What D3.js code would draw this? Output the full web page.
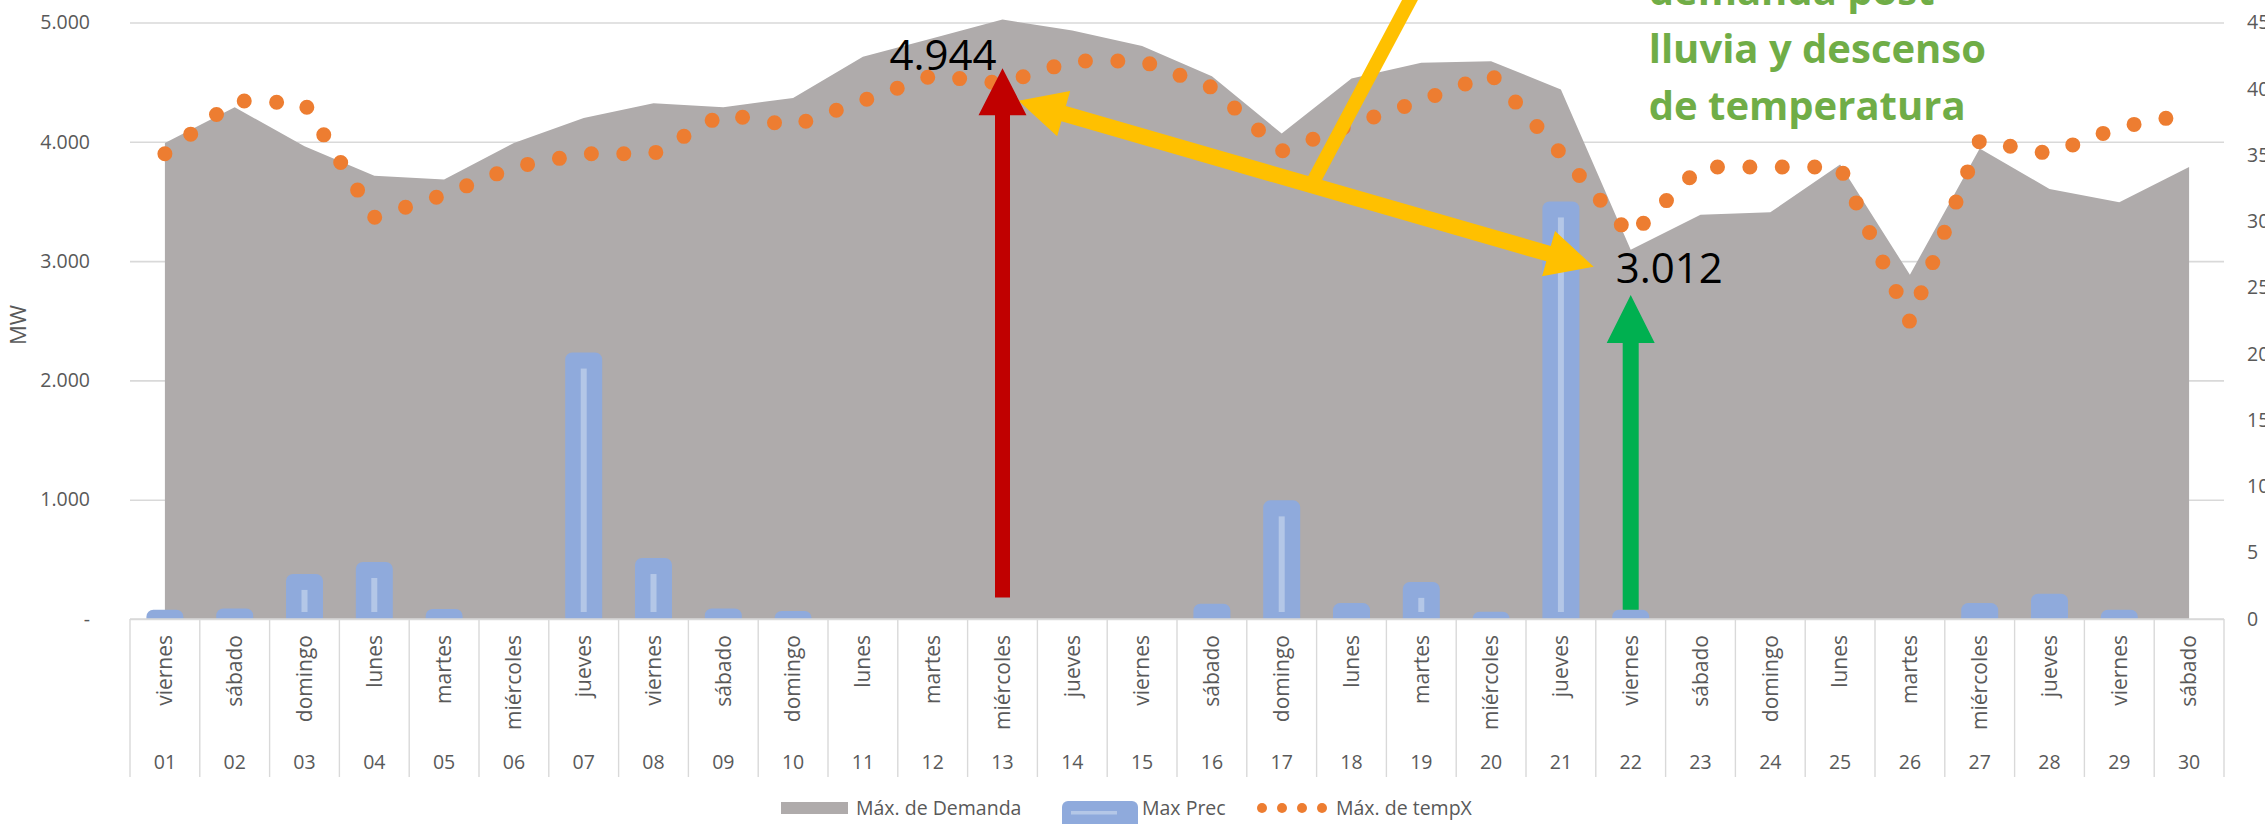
<!DOCTYPE html>
<html>
<head>
<meta charset="utf-8">
<script src="https://cdn.jsdelivr.net/npm/d3@7"></script>
<style>
  body { margin: 0; background: #fff; }
  svg { display: block; }
  text { font-family: "Open Sans", sans-serif; }
</style>
</head>
<body>
<svg width="2265" height="824"></svg>
<script>
var days = ["01","02","03","04","05","06","07","08","09","10","11","12","13","14","15",
            "16","17","18","19","20","21","22","23","24","25","26","27","28","29","30"];
var weekdays = ["viernes","sábado","domingo","lunes","martes","miércoles","jueves",
                "viernes","sábado","domingo","lunes","martes","miércoles","jueves",
                "viernes","sábado","domingo","lunes","martes","miércoles","jueves",
                "viernes","sábado","domingo","lunes","martes","miércoles","jueves",
                "viernes","sábado"];
// Máx. de Demanda (MW)
var demanda = [3990, 4290, 3962, 3716, 3683, 3990, 4200, 4323, 4290, 4368,
               4712, 4868, 5025, 4933, 4802, 4550, 4069, 4530, 4662, 4676,
               4438, 3096, 3389, 3409, 3809, 2886, 3943, 3605, 3493, 3789];
// Max Prec (eje derecho)
var precip = [0.7, 0.8, 3.4, 4.3, 0.75, 0, 20.1, 4.6, 0.8, 0.6,
              0, 0, 0, 0, 0, 1.15, 8.95, 1.2, 2.8, 0.55,
              31.5, 0.7, 0, 0, 0, 0, 1.2, 1.9, 0.7, 0];
// Máx. de tempX (eje derecho)
var tempMax = [35.1, 39.1, 38.9, 30.3, 32.0, 34.1, 35.1, 35.1, 38.1, 37.2,
               39.1, 41.0, 40.4, 42.1, 42.1, 40.1, 35.3, 37.3, 39.1, 41.1,
               35.1, 28.9, 34.1, 34.1, 34.1, 22.4, 36.1, 35.1, 37.1, 38.1];
var leftTicks = [0, 1000, 2000, 3000, 4000, 5000];
var rightTicks = [0, 5, 10, 15, 20, 25, 30, 35, 40, 45];
var legendNames = ["Máx. de Demanda", "Max Prec", "Máx. de tempX"];
var noteValues = [4944, 3012];
var noteText = ["demanda post", "lluvia y descenso", "de temperatura"];

var svg = d3.select("svg"),
    width = +svg.attr("width"),
    height = +svg.attr("height");

var plot = {left: 130, right: 2224, top: 22.5, bottom: 619};
var axisGrey = "#595959", gridGrey = "#d9d9d9";

var x = d3.scaleBand().domain(days).range([plot.left, plot.right]).padding(0);
function cx(d) { return x(d) + x.bandwidth() / 2; }
var yL = d3.scaleLinear().domain([0, 5000]).range([plot.bottom, plot.top]);
var yR = d3.scaleLinear().domain([0, 45]).range([plot.bottom, plot.top]);

var es = d3.formatLocale({decimal: ",", thousands: ".", grouping: [3], currency: ["", "€"]});
var fmt = es.format(",.0f");

var rows = days.map(function(d, i) {
    return {day: d, wd: weekdays[i], dem: demanda[i], prec: precip[i], temp: tempMax[i]};
});

// gridlines
svg.append("g")
    .attr("transform", "translate(" + plot.left + ",0)")
    .call(d3.axisLeft(yL).tickValues(leftTicks).tickSize(-(plot.right - plot.left)).tickFormat(""))
    .call(function(g) {
        g.select(".domain").remove();
        g.selectAll("line").attr("stroke", gridGrey).attr("stroke-width", 1.6);
    });

// area: demanda
var area = d3.area()
    .x(function(d) { return cx(d.day); })
    .y0(plot.bottom)
    .y1(function(d) { return yL(d.dem); });
svg.append("path").datum(rows).attr("d", area).attr("fill", "#afabab");

// bars: precipitacion
function topRounded(x0, y0, w, h, r) {
    r = Math.min(r, h, w / 2);
    return "M" + x0 + "," + (y0 + h) + "V" + (y0 + r) +
        "A" + r + "," + r + " 0 0 1 " + (x0 + r) + "," + y0 +
        "H" + (x0 + w - r) +
        "A" + r + "," + r + " 0 0 1 " + (x0 + w) + "," + (y0 + r) +
        "V" + (y0 + h) + "Z";
}
var barW = x.bandwidth() * 0.53;
var bars = svg.append("g").selectAll("g")
    .data(rows.filter(function(d) { return d.prec > 0; }))
    .enter().append("g");
bars.append("path")
    .attr("d", function(d) {
        var top = yR(d.prec);
        return topRounded(cx(d.day) - barW / 2, top, barW, plot.bottom - top, 7);
    })
    .attr("fill", "#8faadc");
bars.filter(function(d) { return plot.bottom - yR(d.prec) > 26; })
    .append("rect")
    .attr("x", function(d) { return cx(d.day) - 3; })
    .attr("y", function(d) { return yR(d.prec) + 16; })
    .attr("width", 6)
    .attr("height", function(d) { return plot.bottom - 7 - (yR(d.prec) + 16); })
    .attr("fill", "#b4c7e7");

// line: temperatura (punteada)
var line = d3.line()
    .x(function(d) { return cx(d.day); })
    .y(function(d) { return yR(d.temp); });
svg.append("path").datum(rows).attr("d", line)
    .attr("fill", "none")
    .attr("stroke", "#ed7d31")
    .attr("stroke-width", 15)
    .attr("stroke-linecap", "round")
    .attr("stroke-dasharray", "0 32.4");

// bottom axis line
svg.append("line")
    .attr("x1", plot.left).attr("x2", plot.right)
    .attr("y1", plot.bottom).attr("y2", plot.bottom)
    .attr("stroke", gridGrey).attr("stroke-width", 1.6);

// category dividers
svg.append("g").selectAll("line")
    .data(days.concat(["end"]))
    .enter().append("line")
    .attr("x1", function(d, i) { return plot.left + i * x.bandwidth(); })
    .attr("x2", function(d, i) { return plot.left + i * x.bandwidth(); })
    .attr("y1", plot.bottom).attr("y2", 777)
    .attr("stroke", gridGrey).attr("stroke-width", 1.4);

// category labels
svg.append("g").selectAll("text")
    .data(rows)
    .enter().append("text")
    .attr("transform", function(d) { return "translate(" + cx(d.day) + ",635) rotate(-90)"; })
    .attr("text-anchor", "end")
    .attr("dy", "0.35em")
    .attr("font-size", 21)
    .attr("fill", axisGrey)
    .text(function(d) { return d.wd; });

svg.append("g").selectAll("text")
    .data(rows)
    .enter().append("text")
    .attr("x", function(d) { return cx(d.day); })
    .attr("y", 762)
    .attr("dy", "0.35em")
    .attr("text-anchor", "middle")
    .attr("font-size", 19.5)
    .attr("fill", axisGrey)
    .text(function(d) { return d.day; });

// left axis
svg.append("g")
    .attr("transform", "translate(90,0)")
    .call(d3.axisLeft(yL).tickValues(leftTicks).tickSize(0).tickPadding(0)
        .tickFormat(function(v) { return v === 0 ? "-" : fmt(v); }))
    .call(function(g) {
        g.select(".domain").remove();
        g.selectAll("text").attr("font-size", 19.5).attr("fill", axisGrey)
            .attr("font-family", "Open Sans, sans-serif");
    });

// right axis
svg.append("g")
    .attr("transform", "translate(2247,0)")
    .call(d3.axisRight(yR).tickValues(rightTicks).tickSize(0).tickPadding(0))
    .call(function(g) {
        g.select(".domain").remove();
        g.selectAll("text").attr("font-size", 19.5).attr("fill", axisGrey)
            .attr("font-family", "Open Sans, sans-serif");
    });

// y title
svg.append("text")
    .attr("transform", "translate(18,325) rotate(-90)")
    .attr("text-anchor", "middle")
    .attr("dy", "0.35em")
    .attr("font-size", 22)
    .attr("fill", axisGrey)
    .text("MW");

// annotations
function arrowPoints(p0, p1, shaft, headLen, headHalf, both) {
    var dx = p1[0] - p0[0], dy = p1[1] - p0[1], L = Math.hypot(dx, dy);
    var ux = dx / L, uy = dy / L, nx = -uy, ny = ux, s = shaft / 2;
    function pt(t, o) { return [p0[0] + ux * t + nx * o, p0[1] + uy * t + ny * o]; }
    var pts = [];
    if (both) pts.push(pt(0, 0), pt(headLen, headHalf), pt(headLen, s));
    else pts.push(pt(0, s));
    pts.push(pt(L - headLen, s), pt(L - headLen, headHalf), pt(L, 0),
             pt(L - headLen, -headHalf), pt(L - headLen, -s));
    if (both) pts.push(pt(headLen, -s), pt(headLen, -headHalf));
    else pts.push(pt(0, -s));
    return pts;
}
var notes = svg.append("g");

// connector from the callout
notes.append("line")
    .attr("x1", cx("13") + 309).attr("y1", yL(3640))
    .attr("x2", cx("13") + 419).attr("y2", yL(5370))
    .attr("stroke", "#ffc000").attr("stroke-width", 14);

notes.append("polygon")
    .attr("points", arrowPoints([cx("13") + 16, yL(4345)], [cx("22") - 37, yL(2953)], 16, 47, 23.5, true).join(" "))
    .attr("fill", "#ffc000");

notes.append("polygon")
    .attr("points", arrowPoints([cx("13"), yL(180)], [cx("13"), yL(4617)], 15, 47, 24, false).join(" "))
    .attr("fill", "#c00000");

notes.append("polygon")
    .attr("points", arrowPoints([cx("22"), yR(0.7)], [cx("22"), yL(2716)], 16, 48, 24, false).join(" "))
    .attr("fill", "#00b050");

notes.append("text")
    .attr("x", cx("13") - 113).attr("y", 70)
    .attr("font-size", 42).attr("fill", "#000")
    .text(fmt(noteValues[0]));
notes.append("text")
    .attr("x", cx("22") - 15).attr("y", 283)
    .attr("font-size", 42).attr("fill", "#000")
    .text(fmt(noteValues[1]));

notes.append("g").selectAll("text")
    .data(noteText)
    .enter().append("text")
    .attr("x", cx("22") + 18)
    .attr("y", function(d, i) { return 5.2 + i * 57.5; })
    .attr("font-size", 40)
    .attr("font-weight", "bold")
    .attr("fill", "#70ad47")
    .text(function(d) { return d; });

// legend
var lg = svg.append("g").attr("font-size", 19.5).attr("fill", axisGrey);
lg.append("rect").attr("x", 781).attr("y", 802).attr("width", 67).attr("height", 12).attr("fill", "#afabab");
lg.append("text").attr("x", 856).attr("y", 815).text(legendNames[0]);
lg.append("path").attr("d", topRounded(1062, 801, 76, 30, 6)).attr("fill", "#8faadc");
lg.append("rect").attr("x", 1071).attr("y", 811).attr("width", 46).attr("height", 3.5).attr("fill", "#b4c7e7");
lg.append("text").attr("x", 1142).attr("y", 815).text(legendNames[1]);
lg.append("g").selectAll("circle")
    .data([0, 1, 2, 3])
    .enter().append("circle")
    .attr("cx", function(d) { return 1262 + d * 20; })
    .attr("cy", 808)
    .attr("r", 5)
    .attr("fill", "#ed7d31");
lg.append("text").attr("x", 1336).attr("y", 815).text(legendNames[2]);
</script>
</body>
</html>
